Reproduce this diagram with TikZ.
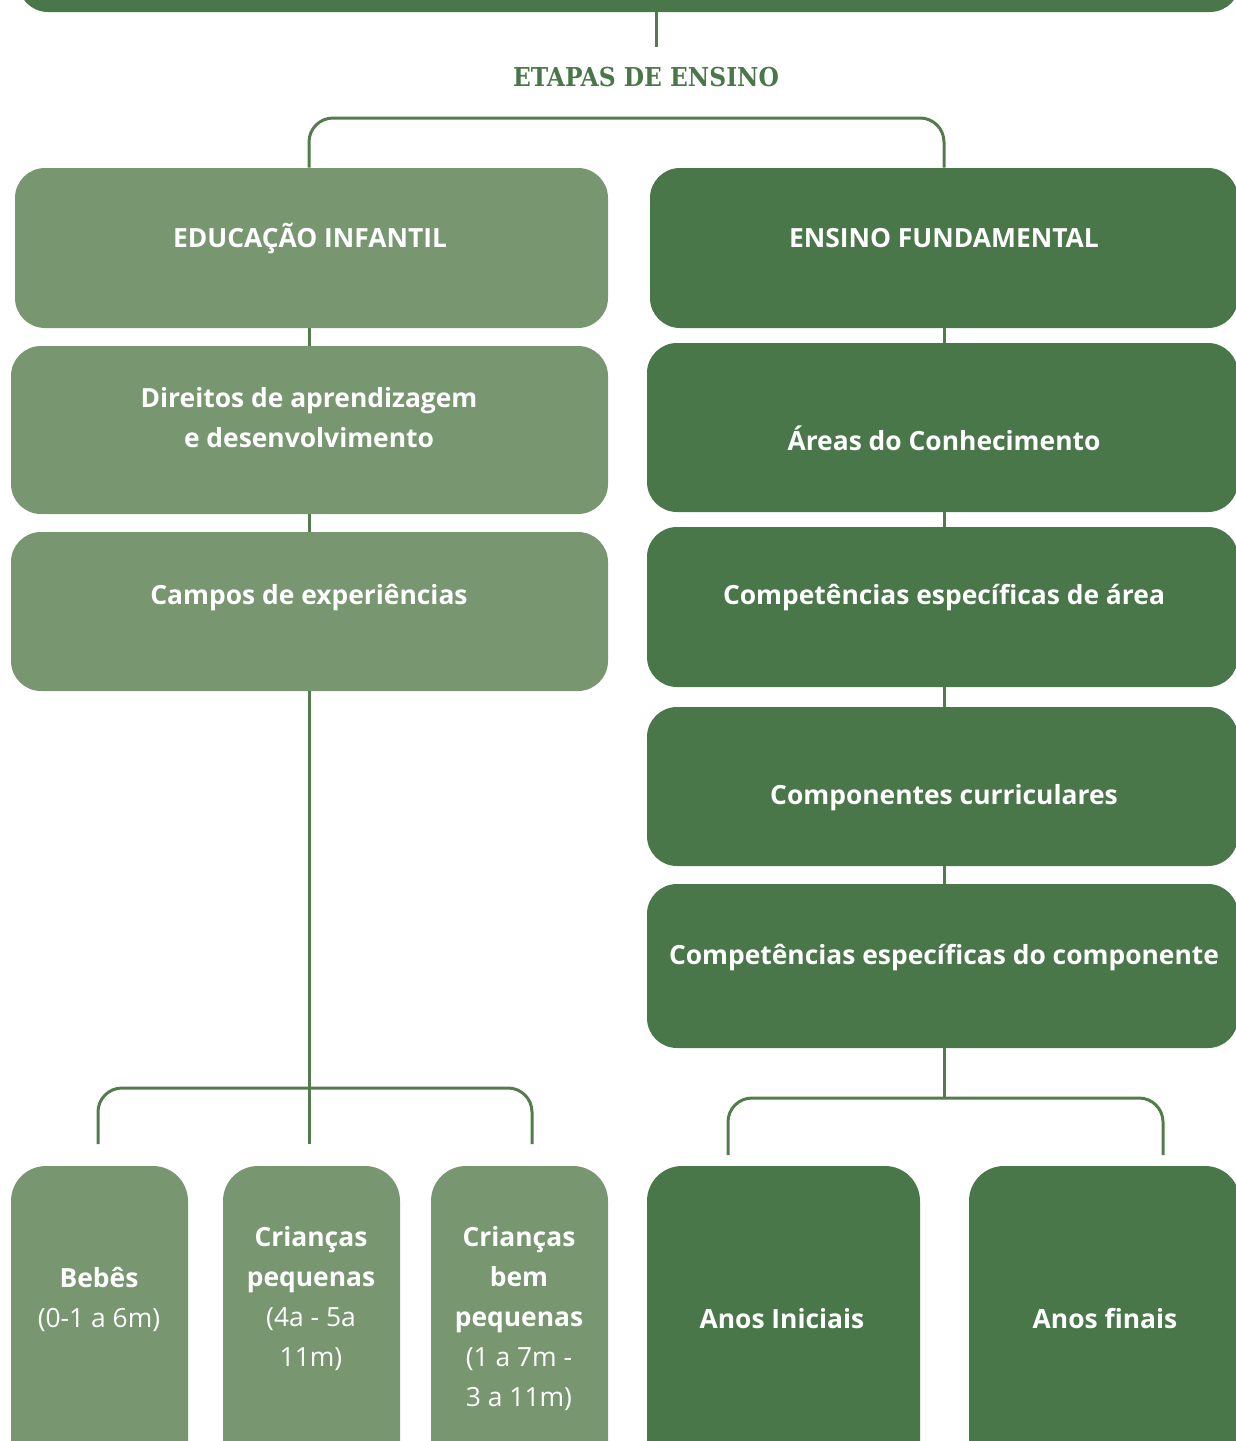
\documentclass[tikz,border=0pt]{standalone}
\usepackage{fontspec}
\setmainfont{Open Sans}
\newfontfamily\slab{DejaVu Serif Condensed}
\definecolor{lightg}{RGB}{120,151,113}
\definecolor{darkg}{RGB}{74,119,73}
\definecolor{lineg}{RGB}{82,124,76}
\begin{document}
\begin{tikzpicture}[x=0.5pt,y=-0.5pt,
  box/.style={rectangle, rounded corners=15pt, inner sep=0pt},
  lt/.style={box, fill=lightg},
  dk/.style={box, fill=darkg},
  tall/.style={rounded corners=17.5pt, minimum height=157pt, minimum width=88.5pt},
  txt/.style={text=white, font=\fontsize{13.2}{20}\selectfont\bfseries, align=center, inner sep=0pt},
  conn/.style={draw=lineg, line width=1.5pt},
  title/.style={text=darkg, font=\slab\bfseries\fontsize{13}{16}\selectfont, inner sep=0pt}]
\useasboundingbox (0,0) rectangle (1236,1441);
\clip (0,0) rectangle (1236,1441);
% boxes
\node[dk, minimum width=611pt, minimum height=26pt] (top) at (629,-14) {};
\node[lt, minimum width=296.5pt, minimum height=80pt] (ei) at (311.5,248) {};
\node[lt, minimum width=298.5pt, minimum height=84pt] (dir) at (309.5,430) {};
\node[lt, minimum width=298.5pt, minimum height=79.5pt] (campos) at (309.5,611.5) {};
\node[dk, minimum width=294pt, minimum height=80pt] (ef) at (944,248) {};
\node[dk, minimum width=295.5pt, minimum height=84.5pt] (areas) at (942.5,427.5) {};
\node[dk, minimum width=295.5pt, minimum height=80pt] (compa) at (942.5,607) {};
\node[dk, minimum width=295.5pt, minimum height=79.5pt] (compc) at (942.5,786.5) {};
\node[dk, minimum width=295.5pt, minimum height=82pt] (compcomp) at (942.5,966) {};
\node[lt, tall] (bebes) at (99.5,1323) {};
\node[lt, tall] (cp) at (311.5,1323) {};
\node[lt, tall] (cbp) at (519.5,1323) {};
\node[dk, tall, minimum width=136.5pt] (ai) at (783.5,1323) {};
\node[dk, tall, minimum width=135.5pt] (af) at (1104.5,1323) {};
% texts
\node[title] (etapas) at (646,77) {ETAPAS DE ENSINO};
\node[txt] (tei) at (310,238) {EDUCAÇÃO INFANTIL};
\node[txt] (tdir) at (309,418) {Direitos de aprendizagem\\e desenvolvimento};
\node[txt] (tcampos) at (309,598) {Campos de experiências};
\node[txt] (tef) at (944,238) {ENSINO FUNDAMENTAL};
\node[txt] (tareas) at (944,438) {Áreas do Conhecimento};
\node[txt] (tcompa) at (944,598) {Competências específicas de área};
\node[txt] (tcompc) at (944,798) {Componentes curriculares};
\node[txt] (tcompcomp) at (944,958) {Competências específicas do componente};
\node[txt] (tbebes) at (99,1299) {Bebês\\\mdseries(0-1 a 6m)};
\node[txt] (tcp) at (311,1298.5) {Crianças\\pequenas\\\mdseries(4a - 5a\\\mdseries 11m)};
\node[txt] (tcbp) at (519,1318.5) {Crianças\\bem\\pequenas\\\mdseries(1 a 7m -\\\mdseries 3 a 11m)};
\node[txt] (tai) at (782,1319) {Anos Iniciais};
\node[txt] (taf) at (1105,1319) {Anos finais};
% connectors
\coordinate (topc) at (656,47);
\draw[conn] (top.south -| topc) -- (topc);
\coordinate (bt) at (656,118);
\draw[conn, rounded corners=12pt] (ei.north -| tdir) |- (bt) -| (ef.north);
\draw[conn] (ei.south -| tdir) -- (dir.north -| tdir);
\draw[conn] (dir.south -| tdir) -- (campos.north -| tdir);
\coordinate (lmid) at (309,1144);
\coordinate (lbt) at (309,1088);
\coordinate (lb1) at (98,1144);
\coordinate (lb3) at (532,1144);
\draw[conn] (campos.south -| lmid) -- (lmid);
\draw[conn, rounded corners=12pt] (lb1) |- (lbt) -| (lb3);
\draw[conn] (ef.south) -- (ef.south |- areas.north);
\draw[conn] (areas.south -| ef.south) -- (ef.south |- compa.north);
\draw[conn] (compa.south -| ef.south) -- (ef.south |- compc.north);
\draw[conn] (compc.south -| ef.south) -- (ef.south |- compcomp.north);
\coordinate (rbt) at (944,1098);
\coordinate (rb1) at (728,1155);
\coordinate (rb2) at (1163,1155);
\draw[conn] (compcomp.south -| rbt) -- (rbt);
\draw[conn, rounded corners=12pt] (rb1) |- (rbt) -| (rb2);
\end{tikzpicture}
\end{document}
